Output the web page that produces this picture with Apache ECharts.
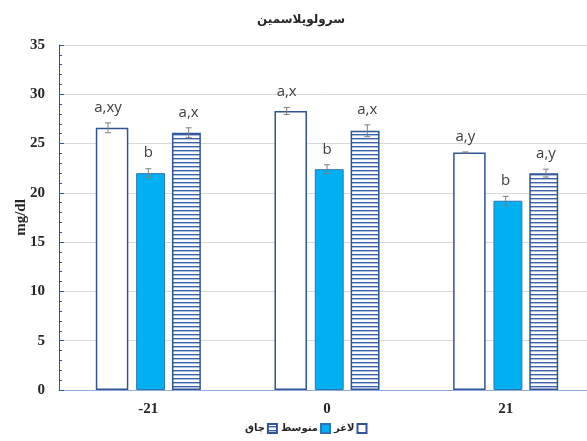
<!DOCTYPE html>
<html>
<head>
<meta charset="utf-8">
<script src="https://cdn.jsdelivr.net/npm/echarts@6/dist/echarts.min.js"></script>
<style>
  html, body { margin: 0; padding: 0; background: #fff; }
  #chart { width: 587px; height: 441px; }
</style>
</head>
<body>
<div id="chart"></div>
<script>
  // data
  var days = ['-21', '0', '21'];
  var names = ['لاغر', 'متوسط', 'چاق'];
  var lean = [26.6, 28.3, 24.1];
  var medium = [22.0, 22.4, 19.2];
  var fat = [26.1, 26.3, 22.0];
  var leanErr = [0.5, 0.35, 0.05];
  var mediumErr = [0.45, 0.45, 0.45];
  var fatErr = [0.5, 0.6, 0.4];
  var leanTxt = ['a,xy', 'a,x', 'a,y'];
  var mediumTxt = ['b', 'b', 'b'];
  var fatTxt = ['a,x', 'a,x', 'a,y'];

  var axisBlue = '#2F5597';

  // horizontal stripe fill
  function stripes() {
    var c = document.createElement('canvas');
    c.width = 4;
    c.height = 4;
    var ctx = c.getContext('2d');
    ctx.fillStyle = '#ffffff';
    ctx.fillRect(0, 0, 4, 4);
    ctx.fillStyle = '#3a62a8';
    ctx.fillRect(0, 2, 4, 1.4);
    return c;
  }

  var barW = 0.182;
  var gap = 0.24;

  function errData(vals, errs, txt) {
    var out = [];
    for (var i = 0; i < vals.length; i++) {
      out.push([i, vals[i], errs[i], txt[i]]);
    }
    return out;
  }

  function errSeries(k, vals, errs, txt) {
    return {
      type: 'custom',
      z: 5,
      data: errData(vals, errs, txt),
      renderItem: function (params, api) {
        var band = api.size([1, 0])[0];
        var w = band * barW;
        var off = (k - 1) * w * (1 + gap);
        var v = api.value(1), e = api.value(2);
        var hi = api.coord([api.value(0), v + e]);
        var lo = api.coord([api.value(0), v - e]);
        var x = hi[0] + off;
        var cap = 3;
        var st = { stroke: '#7f7f7f', lineWidth: 1 };
        return {
          type: 'group',
          children: [
            { type: 'line', shape: { x1: x, y1: hi[1], x2: x, y2: lo[1] }, style: st },
            { type: 'line', shape: { x1: x - cap, y1: hi[1], x2: x + cap, y2: hi[1] }, style: st },
            { type: 'line', shape: { x1: x - cap, y1: lo[1], x2: x + cap, y2: lo[1] }, style: st },
            {
              type: 'text',
              x: x,
              y: hi[1] - 8,
              style: {
                text: api.value(3),
                fill: '#404040',
                font: '15px "Open Sans", sans-serif',
                align: 'center',
                verticalAlign: 'bottom'
              }
            }
          ]
        };
      }
    };
  }

  var chart = echarts.init(document.getElementById('chart'));
  chart.setOption({
    backgroundColor: '#fff',
    animation: false,
    title: {
      text: 'سرولوپلاسمین',
      left: 296,
      top: 9,
      textAlign: 'center',
      textStyle: { fontFamily: 'DejaVu Sans', fontWeight: 'bold', fontSize: 12, color: '#262626' }
    },
    legend: {
      data: [names[2], names[1], names[0]],
      bottom: 2,
      left: 240,
      align: 'right',
      icon: 'rect',
      itemWidth: 9,
      itemHeight: 9,
      itemGap: 3,
      textStyle: { fontFamily: 'DejaVu Sans', fontWeight: 'bold', fontSize: 10, color: '#262626', padding: [0, -2, 0, 0] }
    },
    grid: { left: 59, right: -8, top: 45, bottom: 51, outerBoundsMode: 'none' },
    xAxis: {
      type: 'category',
      data: days,
      axisLine: { lineStyle: { color: '#8faadc', width: 1 } },
      axisTick: { show: false },
      axisLabel: {
        margin: 12,
        fontFamily: 'Liberation Serif',
        fontWeight: 'bold',
        fontSize: 15,
        color: '#262626'
      }
    },
    yAxis: {
      type: 'value',
      min: 0,
      max: 35,
      interval: 5,
      name: 'mg/dl',
      nameLocation: 'middle',
      nameGap: 30,
      nameMoveOverlap: false,
      nameRotate: 90,
      nameTextStyle: { fontFamily: 'Liberation Serif', fontWeight: 'bold', fontSize: 15, color: '#262626' },
      axisLine: { show: true, lineStyle: { color: axisBlue, width: 1 } },
      axisTick: { show: true, inside: true, length: 5, lineStyle: { color: axisBlue } },
      minorTick: { show: true, splitNumber: 5, length: 3, lineStyle: { color: axisBlue } },
      splitLine: { lineStyle: { color: '#d9d9d9', width: 1 } },
      axisLabel: {
        margin: 14,
        fontFamily: 'Liberation Serif',
        fontWeight: 'bold',
        fontSize: 15,
        color: '#262626'
      }
    },
    series: [
      {
        name: names[0],
        type: 'bar',
        barWidth: (barW * 100) + '%',
        barGap: (gap * 100) + '%',
        data: lean,
        itemStyle: { color: '#ffffff', borderColor: axisBlue, borderWidth: 1.5 }
      },
      {
        name: names[1],
        type: 'bar',
        data: medium,
        itemStyle: { color: '#00b0f0', borderColor: '#2e75b6', borderWidth: 1 }
      },
      {
        name: names[2],
        type: 'bar',
        data: fat,
        itemStyle: { color: { image: stripes(), repeat: 'repeat' }, borderColor: axisBlue, borderWidth: 1.5 }
      },
      errSeries(0, lean, leanErr, leanTxt),
      errSeries(1, medium, mediumErr, mediumTxt),
      errSeries(2, fat, fatErr, fatTxt)
    ]
  });
</script>
</body>
</html>
